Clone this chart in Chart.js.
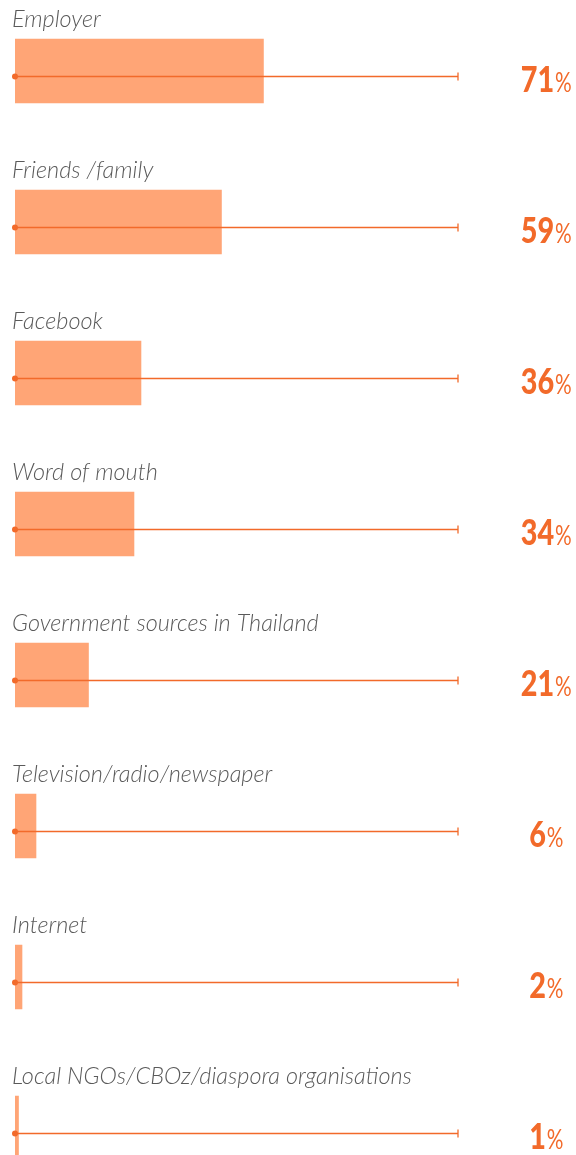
<!DOCTYPE html>
<html>
<head>
<meta charset="utf-8">
<script src="https://cdn.jsdelivr.net/npm/chart.js@4/dist/chart.umd.min.js"></script>
<style>
  html, body { margin: 0; padding: 0; background: #fff; overflow: hidden; }
  #wrap { position: relative; width: 576px; height: 1155px; overflow: hidden; }
  #chart { position: absolute; left: 0; top: -5px; }
</style>
</head>
<body>
<div id="wrap"><canvas id="chart" width="576" height="1220"></canvas></div>
<script>
var categories = ['Employer', 'Friends /family', 'Facebook', 'Word of mouth',
  'Government sources in Thailand', 'Television/radio/newspaper', 'Internet',
  'Local NGOs/CBOz/diaspora organisations']
var shares = [71, 59, 36, 34, 21, 6, 2, 1]
var axisMax = 126.6

var orange = '#f26a2a'

// label above each bar, guide line with dot + end tick, and the big % on the right
var rowDecor = {
  id: 'rowDecor',
  afterDatasetsDraw: function(chart){
    var ctx = chart.ctx
    var x = chart.scales.x, y = chart.scales.y
    var x0 = x.getPixelForValue(0), x1 = x.getPixelForValue(axisMax)
    ctx.save()
    categories.forEach(function(cat, i){
      var cy = y.getPixelForValue(i)
      var ly = Math.round(cy + 5) + 0.5

      ctx.strokeStyle = orange
      ctx.lineWidth = 1.3
      ctx.beginPath()
      ctx.moveTo(x0, ly)
      ctx.lineTo(x1, ly)
      ctx.stroke()
      ctx.beginPath()
      ctx.moveTo(x1, ly - 4)
      ctx.lineTo(x1, ly + 4)
      ctx.stroke()
      ctx.fillStyle = orange
      ctx.beginPath()
      ctx.arc(x0, ly, 3, 0, Math.PI * 2)
      ctx.fill()

      ctx.fillStyle = '#5a5a5a'
      ctx.font = 'italic 300 23.5px Lato'
      ctx.textAlign = 'left'
      ctx.textBaseline = 'middle'
      ctx.fillText(cat, 12, cy - 52)

      // percentage: narrow bold digits + smaller % sign
      var num = String(shares[i])
      ctx.fillStyle = orange
      ctx.textBaseline = 'alphabetic'
      ctx.font = '900 36px Lato'
      var nw = ctx.measureText(num).width * 0.8
      ctx.font = 'bold 26px Lato'
      var pw = ctx.measureText('%').width * 0.8
      var left = 546 - (nw + pw) / 2
      var base = ly + 15
      ctx.save()
      ctx.translate(left, base)
      ctx.scale(0.8, 1)
      ctx.font = '900 36px Lato'
      ctx.fillText(num, 0, 0)
      ctx.font = 'normal 26px Lato'
      ctx.fillText('%', nw / 0.8 + 1, 0)
      ctx.restore()
    })
    ctx.restore()
  }
}

new Chart(document.getElementById('chart'), {
  type: 'bar',
  data: {
    labels: categories,
    datasets: [{
      data: shares,
      backgroundColor: '#ffa576',
      borderWidth: 0,
      barThickness: 64
    }]
  },
  options: {
    indexAxis: 'y',
    responsive: false,
    devicePixelRatio: 1,
    animation: false,
    layout: { padding: { left: 15, right: 118, top: 0.5, bottom: 11.5 } },
    plugins: { legend: { display: false }, tooltip: { enabled: false } },
    scales: {
      x: { display: false, min: 0, max: axisMax },
      y: { display: false }
    }
  },
  plugins: [rowDecor]
})
</script>
</body>
</html>
